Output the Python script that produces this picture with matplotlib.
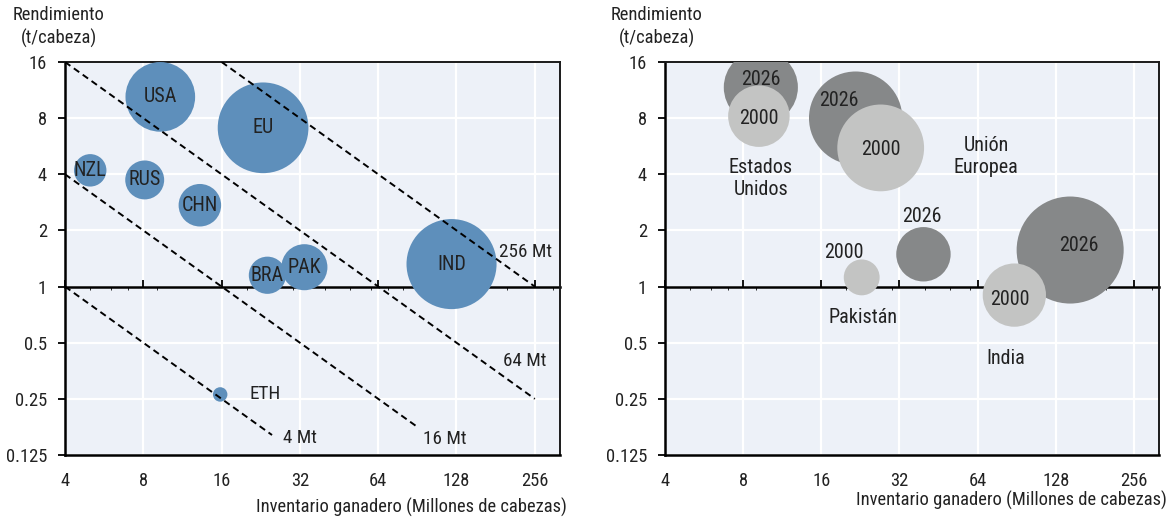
import matplotlib
matplotlib.use("Agg")
import matplotlib.pyplot as plt
from matplotlib import font_manager

# ---- data -----------------------------------------------------------------
# Left panel: milk yield vs herd size, by country
countries = ["USA", "EU", "NZL", "RUS", "CHN", "BRA", "PAK", "IND", "ETH"]
herd_country = [9.3, 23.1, 5.0, 8.1, 13.2, 24.0, 33.3, 122.5, 15.8]
yield_country = [10.4, 7.1, 4.2, 3.73, 2.73, 1.15, 1.27, 1.32, 0.264]

# Iso-production lines (Mt) and the herd range each one spans
iso_levels = [256, 64, 16, 4]
iso_herd_start = [16, 4, 4, 4]
iso_herd_end = [256, 256, 90, 25]
iso_labels = ["256 Mt", "64 Mt", "16 Mt", "4 Mt"]
iso_label_x = [187, 194, 95, 27.6]
iso_label_y = [1.53, 0.398, 0.152, 0.155]

# Right panel: 2000 vs 2026 for selected regions
regions = ["Estados\nUnidos", "Unión\nEuropea", "Pakistán", "India"]
herd_2000 = [9.2, 27.1, 22.9, 88.7]
yield_2000 = [8.2, 5.54, 1.12, 0.90]
herd_2026 = [9.36, 21.7, 39.6, 145.5]
yield_2026 = [11.7, 8.0, 1.49, 1.57]
region_label_x = [9.35, 69.2, 23.1, 81.9]
region_label_y = [3.81, 5.01, 0.685, 0.413]

x_ticks = [4, 8, 16, 32, 64, 128, 256]
x_ticklabels = ["4", "8", "16", "32", "64", "128", "256"]
y_ticks = [0.125, 0.25, 0.5, 1, 2, 4, 8, 16]
y_ticklabels = ["0.125", "0.25", "0.5", "1", "2", "4", "8", "16"]

# ---- style ----------------------------------------------------------------
avail = {f.name for f in font_manager.fontManager.ttflist}
family = [f for f in ["Liberation Sans Narrow", "Roboto Condensed", "Liberation Sans"] if f in avail]
plt.rcParams["font.family"] = family + ["DejaVu Sans"]

BG = "#EDF1F8"
BLUE = "#5E8FBB"
DARK = "#868889"
LIGHT = "#C3C4C3"
TXT = "#222222"
SIZE_PER_MT = 26.0  # marker area (pt^2) per Mt of production
FS = 13.3
FS_BUB = 14.5

W, H = 1171, 517
fig = plt.figure(figsize=(W / 100, H / 100), dpi=100)
axL = fig.add_axes([65 / W, 1 - 455 / H, 495 / W, 393 / H])
axR = fig.add_axes([665 / W, 1 - 455 / H, 494 / W, 393 / H])


def style_axes(ax):
    ax.set_facecolor(BG)
    ax.set_xscale("log", base=2)
    ax.set_yscale("log", base=2)
    ax.set_xlim(4, 320)
    ax.set_ylim(0.125, 16)
    ax.set_xticks(x_ticks)
    ax.set_xticklabels(x_ticklabels)
    ax.set_yticks(y_ticks)
    ax.set_yticklabels(y_ticklabels)
    ax.minorticks_off()
    ax.set_axisbelow(True)
    ax.grid(True, color="white", lw=1.6)
    ax.tick_params(axis="x", length=0, pad=12, labelsize=FS, labelcolor=TXT)
    ax.tick_params(axis="y", length=5, width=1.3, pad=8, labelsize=FS, labelcolor=TXT)
    for side in ["left", "bottom"]:
        ax.spines[side].set_linewidth(1.8)
        ax.spines[side].set_color("black")
    for side in ["top", "right"]:
        ax.spines[side].set_linewidth(1.4)
        ax.spines[side].set_color("#1a1a1a")
    # horizontal reference at a yield of 1 t/head, with small ticks
    sec = ax.secondary_xaxis(3 / 7)
    sec.set_xticks(x_ticks)
    sec.tick_params(axis="x", direction="in", length=5, width=1.3, labelbottom=False, labeltop=False)
    sec.spines["bottom"].set_linewidth(1.8)
    sec.set_zorder(1)


style_axes(axL)
style_axes(axR)

# ---- left panel -------------------------------------------------------------
for lvl, x0, x1 in zip(iso_levels, iso_herd_start, iso_herd_end):
    axL.plot([x0, x1], [lvl / x0, lvl / x1], ls=(0, (3.4, 2.2)), color="black", lw=1.4, zorder=4)
for lab, lx, ly in zip(iso_labels, iso_label_x, iso_label_y):
    axL.text(lx, ly, lab, ha="left", va="center", fontsize=FS + 0.5, color=TXT, zorder=6)

prod_country = [h * y for h, y in zip(herd_country, yield_country)]
axL.scatter(herd_country, yield_country, s=[SIZE_PER_MT * p for p in prod_country],
            color=BLUE, edgecolors="none", zorder=3)
for c, h, y in zip(countries, herd_country, yield_country):
    if c == "ETH":
        axL.annotate(c, (h, y), xytext=(21, 0), textcoords="offset points",
                     ha="left", va="center", fontsize=FS + 0.5, color=TXT, zorder=6)
    else:
        axL.text(h, y, c, ha="center", va="center", fontsize=FS_BUB, color=TXT, zorder=6)

# ---- right panel ------------------------------------------------------------
prod_2026 = [h * y for h, y in zip(herd_2026, yield_2026)]
prod_2000 = [h * y for h, y in zip(herd_2000, yield_2000)]
axR.scatter(herd_2026, yield_2026, s=[SIZE_PER_MT * p for p in prod_2026],
            color=DARK, edgecolors="none", zorder=3)
axR.scatter(herd_2000, yield_2000, s=[SIZE_PER_MT * p for p in prod_2000],
            color=LIGHT, edgecolors="none", zorder=3.5)

off_2026 = [(0, 6), (-12, 13), (-1, 27), (6, 3)]
off_2000 = [(0, -2), (0, -1), (-13, 18), (-3, -3)]
for h, y, off in zip(herd_2026, yield_2026, off_2026):
    axR.annotate("2026", (h, y), xytext=off, textcoords="offset points",
                 ha="center", va="center", fontsize=FS_BUB, color=TXT, zorder=6)
for h, y, off in zip(herd_2000, yield_2000, off_2000):
    axR.annotate("2000", (h, y), xytext=off, textcoords="offset points",
                 ha="center", va="center", fontsize=FS_BUB, color=TXT, zorder=6)
for name, lx, ly in zip(regions, region_label_x, region_label_y):
    axR.text(lx, ly, name, ha="center", va="center", fontsize=FS_BUB, color=TXT,
             linespacing=1.2, zorder=6)

# ---- axis titles ------------------------------------------------------------
for cx in (59, 657):
    fig.text(cx / W, 1 - 6 / H, "Rendimiento\n(t/cabeza)", ha="center", va="top",
             fontsize=FS, color=TXT, linespacing=1.3)
fig.text(567 / W, 1 - 507 / H, "Inventario ganadero (Millones de cabezas)",
         ha="right", va="center", fontsize=FS, color=TXT)
fig.text(1167 / W, 1 - 500 / H, "Inventario ganadero (Millones de cabezas)",
         ha="right", va="center", fontsize=FS, color=TXT)

fig.savefig("out.png", dpi=100, facecolor="white")
